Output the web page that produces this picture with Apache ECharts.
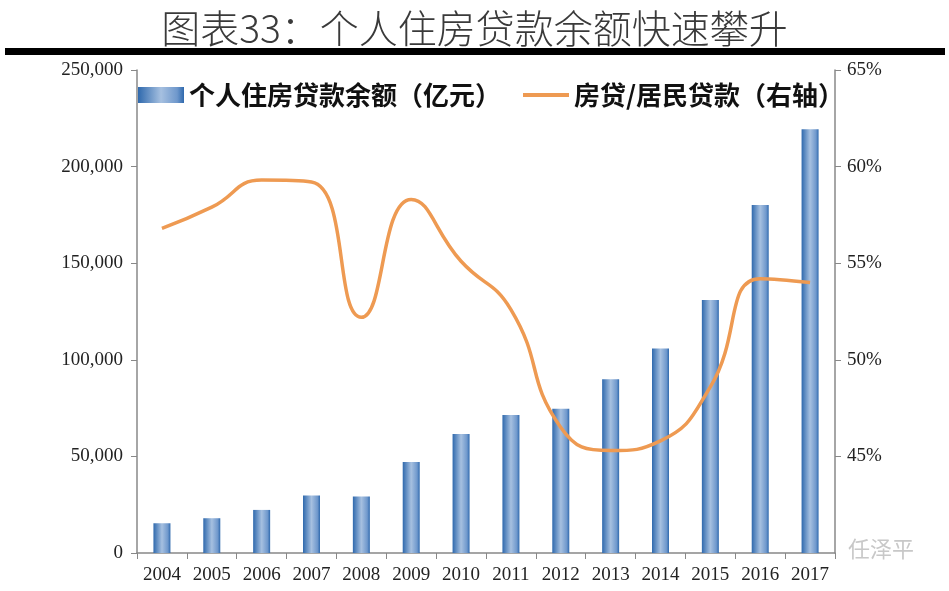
<!DOCTYPE html>
<html><head><meta charset="utf-8">
<script src="https://cdn.jsdelivr.net/npm/echarts@6/dist/echarts.min.js"></script>
<style>html,body{margin:0;padding:0;background:#fff;}#c{width:949px;height:591px;}</style>
</head><body><div id="c"></div>
<script>
const years = ['2004','2005','2006','2007','2008','2009','2010','2011','2012','2013','2014','2015','2016','2017'];
const loanBalance = [15400, 18000, 22300, 29700, 29200, 47100, 61600, 71400, 74700, 89900, 105900, 131000, 180100, 219300];
const loanShare = [56.8, 57.9, 59.3, 59.2, 52.2, 58.3, 55.1, 52.6, 46.5, 45.3, 45.8, 48.6, 54.2, 54.0];
const leftTicks = [0, 50000, 100000, 150000, 200000, 250000];
const rightTicks = [40, 45, 50, 55, 60, 65];

const chart = echarts.init(document.getElementById('c'));
const serif = 'Liberation Serif, DejaVu Serif, serif';
const cjk = 'Noto Sans CJK SC';
chart.setOption({
  animation: false,
  backgroundColor: '#fff',
  title: {
    text: '图表33：个人住房贷款余额快速攀升',
    left: 'center', top: 4,
    textStyle: { fontFamily: cjk, fontSize: 39, fontWeight: 300, color: '#3a3a3a' }
  },
  graphic: [
    { type: 'rect', shape: { x: 5, y: 48, width: 940, height: 7 }, style: { fill: '#000' } },
    { type: 'text', left: 848, top: 538, style: { text: '任泽平', font: '22px "Noto Sans CJK SC"', fill: '#c8c8c8' } }
  ],
  legend: {
    left: 133, top: 77,
    itemWidth: 46, itemHeight: 16, itemGap: 22,
    textStyle: { fontFamily: cjk, fontSize: 26, fontWeight: 'bold', color: '#111' },
    data: [
      { name: '个人住房贷款余额（亿元）', icon: 'rect' },
      { name: '房贷/居民贷款（右轴）', icon: 'path://M0,6H46V10H0Z' }
    ]
  },
  grid: { left: 137, right: 114, top: 70, bottom: 38, containLabel: false },
  xAxis: {
    type: 'category', data: years,
    axisLine: { lineStyle: { color: '#888', width: 1.5 } },
    axisTick: { show: true, alignWithLabel: false, length: 6, lineStyle: { color: '#888' } },
    axisLabel: { fontFamily: serif, fontSize: 19, color: '#222', margin: 13 }
  },
  yAxis: [
    {
      type: 'value', min: leftTicks[0], max: leftTicks[leftTicks.length - 1], interval: 50000,
      splitLine: { show: false },
      axisLine: { show: true, lineStyle: { color: '#888', width: 1.5 } },
      axisTick: { show: true, inside: false, length: 6, lineStyle: { color: '#888' } },
      axisLabel: { fontFamily: serif, fontSize: 19, color: '#222', margin: 14,
        formatter: v => v.toLocaleString('en-US') }
    },
    {
      type: 'value', min: rightTicks[0], max: rightTicks[rightTicks.length - 1], interval: 5,
      splitLine: { show: false },
      axisLine: { show: true, lineStyle: { color: '#888', width: 1.5 } },
      axisTick: { show: true, length: 6, lineStyle: { color: '#888' } },
      axisLabel: { fontFamily: serif, fontSize: 19, color: '#222', margin: 12, showMinLabel: false,
        formatter: '{value}%' }
    }
  ],
  series: [
    {
      name: '个人住房贷款余额（亿元）', type: 'bar', data: loanBalance, barWidth: 17,
      itemStyle: {
        color: new echarts.graphic.LinearGradient(0, 0, 1, 0, [
          { offset: 0, color: '#2f69ad' },
          { offset: 0.5, color: '#a6c0e0' },
          { offset: 0.85, color: '#6f98cc' },
          { offset: 1, color: '#2f69ad' }
        ])
      }
    },
    {
      name: '房贷/居民贷款（右轴）', type: 'line', yAxisIndex: 1, data: loanShare,
      smooth: 0.5, symbol: 'none',
      lineStyle: { color: '#ee9a52', width: 3.5 },
      itemStyle: { color: '#ee9a52' }
    }
  ]
});
</script></body></html>
